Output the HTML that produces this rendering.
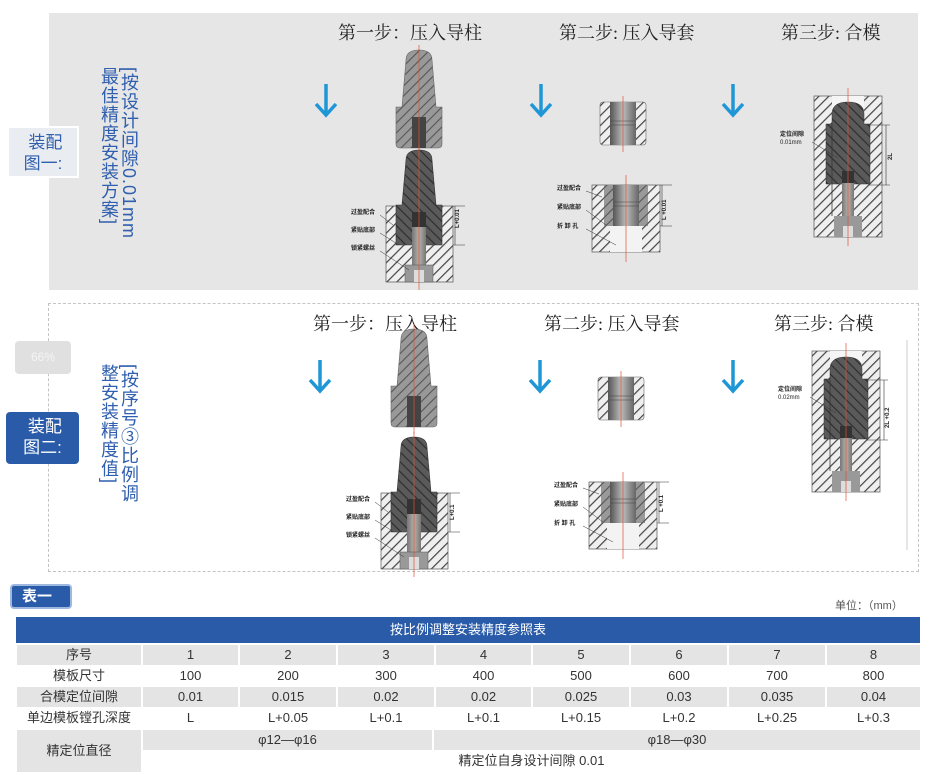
<!DOCTYPE html>
<html><head><meta charset="utf-8">
<style>
body{margin:0;width:933px;height:775px;background:#fff;position:relative;overflow:hidden;font-family:"Liberation Sans","Noto Sans CJK SC",sans-serif;}
.abs{position:absolute;}
.panel1{left:49px;top:13px;width:869px;height:277px;background:#e6e6e6;}
.panel2{left:48px;top:303px;width:871px;height:269px;border:1px dashed #c4c4c4;box-sizing:border-box;}
.lab{font-size:17px;line-height:21px;text-align:center;box-sizing:border-box;padding-top:4px;}
.vt{writing-mode:vertical-rl;color:#2f5fae;font-size:18px;line-height:19px;letter-spacing:1px;}
.step{font-family:"Liberation Serif","Noto Serif CJK SC",serif;font-size:18px;color:#222;}
.c{position:absolute;top:0;height:20px;line-height:20px;text-align:center;}
.g{background:#e4e4e4;}
</style></head><body>
<div class="abs panel1"></div>
<div class="abs panel2"></div>
<div class="abs lab" style="left:7px;top:126px;width:72px;height:52px;background:#e9ecf1;border:2px solid #fff;color:#2f5fae;">&nbsp;装配<br>图一:</div>
<div class="abs" style="left:15px;top:341px;width:56px;height:33px;background:#e0e0e0;border-radius:4px;color:#f4f4f4;font-size:12px;text-align:center;line-height:33px;">66%</div>
<div class="abs lab" style="left:6px;top:412px;width:73px;height:52px;background:#2a5ba8;border-radius:4px;color:#fff;">&nbsp;装配<br>图二:</div>
<div class="abs vt" style="left:119px;top:67px;">[按设计间隙0.01mm</div>
<div class="abs vt" style="left:99px;top:67px;">最佳精度安装方案]</div>
<div class="abs vt" style="left:119px;top:364px;">[按序号③比例调</div>
<div class="abs vt" style="left:99px;top:364px;">整安装精度值]</div>

<div class="abs step" style="left:338px;top:19px;">第一步：压入导柱</div>
<div class="abs step" style="left:559px;top:19px;">第二步: 压入导套</div>
<div class="abs step" style="left:781px;top:19px;">第三步: 合模</div>
<div class="abs step" style="left:313px;top:310px;">第一步：压入导柱</div>
<div class="abs step" style="left:544px;top:310px;">第二步: 压入导套</div>
<div class="abs step" style="left:774px;top:310px;">第三步: 合模</div>

<svg class="abs" style="left:0;top:0" width="933" height="600" xmlns="http://www.w3.org/2000/svg">
<defs>
<pattern id="hl" width="7" height="7" patternUnits="userSpaceOnUse" patternTransform="rotate(45)"><rect width="7" height="7" fill="#efefef"/><rect x="0" y="0" width="1.2" height="7" fill="#444"/></pattern>
<pattern id="hg" width="7" height="7" patternUnits="userSpaceOnUse" patternTransform="rotate(45)"><rect width="7" height="7" fill="#999"/><rect x="0" y="0" width="1.1" height="7" fill="#555"/></pattern>
<pattern id="hd" width="7" height="7" patternUnits="userSpaceOnUse" patternTransform="rotate(-45)"><rect width="7" height="7" fill="#5a5a5a"/><rect x="0" y="0" width="1.2" height="7" fill="#2e2e2e"/></pattern>
<linearGradient id="bg" x1="0" x2="1"><stop offset="0" stop-color="#555"/><stop offset="0.5" stop-color="#bbb"/><stop offset="1" stop-color="#666"/></linearGradient>
<linearGradient id="sg" x1="0" x2="1"><stop offset="0" stop-color="#777"/><stop offset="0.5" stop-color="#b5b0aa"/><stop offset="1" stop-color="#777"/></linearGradient>
<g id="arrow"><line x1="0" y1="0" x2="0" y2="30" stroke="#1f97d6" stroke-width="3.5"/><polyline points="-10,20 0,31 10,20" fill="none" stroke="#1f97d6" stroke-width="3.5"/></g>
<g id="post">
<path d="M-13,10 Q-13,0 0,0 Q13,0 13,10 L17,57 L23,57 L23,94 Q23,98 19,98 L-19,98 Q-23,98 -23,94 L-23,57 L-17,57 Z" fill="url(#hg)" stroke="#666" stroke-width="0.6"/>
<rect x="-7" y="67" width="14" height="31" fill="#444"/>
<line x1="0" y1="-5" x2="0" y2="105" stroke="#e05030" stroke-width="0.7"/>
</g>
<g id="asm1">
<rect x="-33" y="56" width="67" height="76" fill="url(#hl)" stroke="#555" stroke-width="0.7"/>
<path d="M-13,10 Q-13,0 0,0 Q13,0 13,10 L17,55 L23,55 L23,95 L-23,95 L-23,55 L-17,55 Z" fill="url(#hd)" stroke="#333" stroke-width="0.6"/>
<rect x="-7" y="62" width="14" height="15" fill="#333"/>
<rect x="-7" y="77" width="14" height="55" fill="url(#sg)"/>
<rect x="-14" y="115" width="28" height="17" fill="#999" stroke="#555" stroke-width="0.5"/>
<rect x="-5" y="120" width="10" height="12" fill="#ddd"/>
<line x1="36" y1="56" x2="36" y2="95" stroke="#333" stroke-width="0.6"/>
<line x1="34" y1="56" x2="46" y2="56" stroke="#333" stroke-width="0.5"/><line x1="34" y1="95" x2="46" y2="95" stroke="#333" stroke-width="0.5"/>
<line x1="0" y1="-5" x2="0" y2="140" stroke="#e05030" stroke-width="0.7"/>
<g font-size="6" fill="#222" font-weight="bold"><text x="-68" y="64">过盈配合</text><text x="-68" y="82">紧贴底部</text><text x="-68" y="100">锁紧螺丝</text></g>
<path d="M-39,65 L-26,75 M-39,83 L-20,95 M-39,101 L-10,120" stroke="#333" stroke-width="0.5" fill="none"/>
</g>
<g id="bush">
<rect x="-23" y="0" width="46" height="43" rx="3" fill="url(#hl)" stroke="#666" stroke-width="0.6"/>
<rect x="-13" y="0" width="26" height="43" fill="url(#bg)"/>
<line x1="-13" y1="19" x2="13" y2="19" stroke="#444" stroke-width="0.6"/><line x1="-13" y1="23" x2="13" y2="23" stroke="#444" stroke-width="0.6"/>
<line x1="0" y1="-6" x2="0" y2="50" stroke="#e05030" stroke-width="0.7"/>
</g>
<g id="asm2">
<rect x="-34" y="0" width="68" height="67" fill="url(#hl)" stroke="#555" stroke-width="0.7"/>
<rect x="-22" y="0" width="44" height="41" fill="url(#hg)"/>
<rect x="-13" y="0" width="26" height="41" fill="url(#bg)"/>
<line x1="-13" y1="17" x2="13" y2="17" stroke="#444" stroke-width="0.6"/><line x1="-13" y1="21" x2="13" y2="21" stroke="#444" stroke-width="0.6"/>
<rect x="-16" y="41" width="32" height="26" fill="#f3f3f3"/>
<line x1="36" y1="0" x2="36" y2="41" stroke="#333" stroke-width="0.6"/>
<line x1="34" y1="0" x2="46" y2="0" stroke="#333" stroke-width="0.5"/><line x1="34" y1="41" x2="46" y2="41" stroke="#333" stroke-width="0.5"/>
<line x1="0" y1="-10" x2="0" y2="77" stroke="#e05030" stroke-width="0.7"/>
<g font-size="6" fill="#222" font-weight="bold"><text x="-69" y="5">过盈配合</text><text x="-69" y="24">紧贴底部</text><text x="-69" y="43">折 卸 孔</text></g>
<path d="M-40,6 L-24,12 M-40,25 L-20,40 M-40,44 L-10,60" stroke="#333" stroke-width="0.5" fill="none"/>
</g>
<g id="asm3">
<rect x="-34" y="0" width="68" height="141" fill="url(#hl)" stroke="#555" stroke-width="0.7"/>
<rect x="-16" y="0" width="32" height="28" fill="#f5f5f5"/>
<rect x="-22" y="28" width="44" height="45" fill="url(#hg)"/>
<path d="M-16,120 L-16,18 Q-16,6 0,6 Q16,6 16,18 L16,28 L22,28 L22,88 L-22,88 L-22,28 L-16,28 Z" fill="url(#hd)" stroke="#333" stroke-width="0.5"/>
<rect x="-6" y="75" width="12" height="12" fill="#333"/>
<rect x="-6" y="87" width="12" height="54" fill="url(#sg)"/>
<rect x="-14" y="120" width="28" height="21" fill="#999"/>
<rect x="-5" y="130" width="10" height="11" fill="#ddd"/>
<line x1="38" y1="29" x2="38" y2="89" stroke="#333" stroke-width="0.6"/>
<line x1="20" y1="29" x2="42" y2="29" stroke="#333" stroke-width="0.5"/><line x1="20" y1="89" x2="42" y2="89" stroke="#333" stroke-width="0.5"/>
<line x1="0" y1="-8" x2="0" y2="150" stroke="#e05030" stroke-width="0.7"/>
<path d="M-36,46 L-10,62" stroke="#333" stroke-width="0.5"/>
</g>
</defs>
<use href="#arrow" x="326" y="84"/><use href="#arrow" x="541" y="84"/><use href="#arrow" x="733" y="84"/>
<use href="#arrow" x="320" y="360"/><use href="#arrow" x="540" y="360"/><use href="#arrow" x="733" y="360"/>
<use href="#post" x="419" y="50"/>
<use href="#asm1" x="419" y="150"/>
<use href="#bush" x="623" y="102"/>
<use href="#asm2" x="626" y="185"/>
<use href="#asm3" x="848" y="96"/>
<use href="#post" x="414" y="329"/>
<use href="#asm1" x="414" y="437"/>
<use href="#bush" x="621" y="377"/>
<use href="#asm2" x="623" y="482"/>
<use href="#asm3" x="846" y="351"/>
<g font-size="6" fill="#222" font-weight="bold">
<text x="780" y="136">定位间隙</text><text x="780" y="144" font-weight="normal">0.01mm</text>
<text x="778" y="391">定位间隙</text><text x="778" y="399" font-weight="normal">0.02mm</text>
<text transform="translate(459,228) rotate(-90)">L+0.01</text>
<text transform="translate(666,220) rotate(-90)">L +0.01</text>
<text transform="translate(892,160) rotate(-90)">2L</text>
<text transform="translate(454,520) rotate(-90)">L+0.1</text>
<text transform="translate(663,512) rotate(-90)">L +0.1</text>
<text transform="translate(889,428) rotate(-90)">2L +0.2</text>
</g>
<line x1="907" y1="340" x2="907" y2="550" stroke="#ccc" stroke-width="1"/>
</svg>

<div class="abs" style="left:10px;top:584px;width:62px;height:25px;background:#2a5ba8;border-radius:4px;border:2px solid #9fb8e0;box-sizing:border-box;color:#fff;font-weight:bold;font-size:15px;line-height:21px;padding-left:10px;">表一</div>
<div class="abs" style="left:835px;top:597px;font-size:11px;color:#555;">单位：（mm）</div>

<div class="abs" style="left:16px;top:617px;width:904px;height:26px;background:#2a5ba8;color:#fff;font-size:13px;text-align:center;line-height:26px;">按比例调整安装精度参照表</div>

<div class="abs" style="left:0;top:0;width:933px;height:775px;font-size:13px;color:#333;">
<div class="abs g c" style="left:17px;top:645px;width:124px;">序号</div>
<div class="abs c" style="left:17px;top:666px;width:124px;">模板尺寸</div>
<div class="abs g c" style="left:17px;top:687px;width:124px;">合模定位间隙</div>
<div class="abs c" style="left:17px;top:708px;width:124px;">单边模板镗孔深度</div>
<div class="abs g c" style="left:17px;top:730px;width:124px;height:42px;line-height:42px;">精定位直径</div>
<div class="abs g c" style="left:143px;top:730px;width:289px;">φ12—φ16</div>
<div class="abs g c" style="left:434px;top:730px;width:486px;">φ18—φ30</div>
<div class="abs c" style="left:143px;top:751px;width:777px;">精定位自身设计间隙 0.01</div>
</div>
<div class="abs" style="left:0;top:0;width:933px;font-size:13px;color:#333;">
<div class="abs g c" style="left:143px;top:645px;width:95px;">1</div><div class="abs g c" style="left:240px;top:645px;width:96px;">2</div><div class="abs g c" style="left:338px;top:645px;width:96px;">3</div><div class="abs g c" style="left:436px;top:645px;width:95px;">4</div><div class="abs g c" style="left:533px;top:645px;width:96px;">5</div><div class="abs g c" style="left:631px;top:645px;width:96px;">6</div><div class="abs g c" style="left:729px;top:645px;width:96px;">7</div><div class="abs g c" style="left:827px;top:645px;width:93px;">8</div>
<div class="abs c" style="left:143px;top:666px;width:95px;">100</div><div class="abs c" style="left:240px;top:666px;width:96px;">200</div><div class="abs c" style="left:338px;top:666px;width:96px;">300</div><div class="abs c" style="left:436px;top:666px;width:95px;">400</div><div class="abs c" style="left:533px;top:666px;width:96px;">500</div><div class="abs c" style="left:631px;top:666px;width:96px;">600</div><div class="abs c" style="left:729px;top:666px;width:96px;">700</div><div class="abs c" style="left:827px;top:666px;width:93px;">800</div>
<div class="abs g c" style="left:143px;top:687px;width:95px;">0.01</div><div class="abs g c" style="left:240px;top:687px;width:96px;">0.015</div><div class="abs g c" style="left:338px;top:687px;width:96px;">0.02</div><div class="abs g c" style="left:436px;top:687px;width:95px;">0.02</div><div class="abs g c" style="left:533px;top:687px;width:96px;">0.025</div><div class="abs g c" style="left:631px;top:687px;width:96px;">0.03</div><div class="abs g c" style="left:729px;top:687px;width:96px;">0.035</div><div class="abs g c" style="left:827px;top:687px;width:93px;">0.04</div>
<div class="abs c" style="left:143px;top:708px;width:95px;">L</div><div class="abs c" style="left:240px;top:708px;width:96px;">L+0.05</div><div class="abs c" style="left:338px;top:708px;width:96px;">L+0.1</div><div class="abs c" style="left:436px;top:708px;width:95px;">L+0.1</div><div class="abs c" style="left:533px;top:708px;width:96px;">L+0.15</div><div class="abs c" style="left:631px;top:708px;width:96px;">L+0.2</div><div class="abs c" style="left:729px;top:708px;width:96px;">L+0.25</div><div class="abs c" style="left:827px;top:708px;width:93px;">L+0.3</div>
</div>
</body></html>
